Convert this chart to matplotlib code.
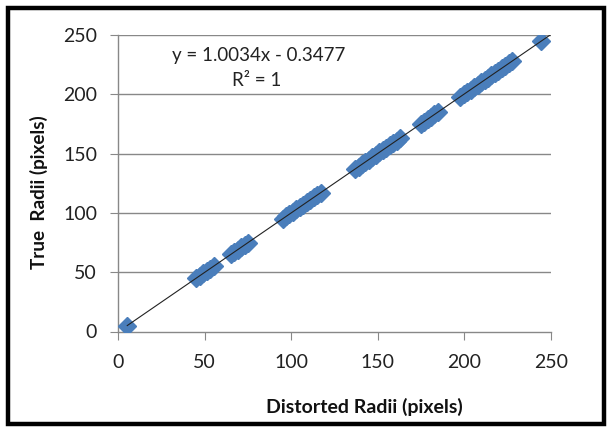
import numpy as np
import matplotlib
matplotlib.use('Agg')
import matplotlib.pyplot as plt
from matplotlib.patches import Rectangle

# distorted vs true radii (pixels)
true_radii = [5,
              45, 47, 49, 51, 53, 55,
              65, 67, 69, 71, 73, 75,
              95, 97, 99, 101, 103, 105, 107, 109, 111, 113, 115, 117,
              137, 139, 141, 143, 145, 147, 149, 151, 153, 155, 157, 159, 161, 163,
              175, 177, 179, 181, 183, 185,
              198, 200, 202, 204, 206, 208, 210, 212, 214, 216, 218, 220, 222, 224, 226, 228,
              245]
distorted_radii = [5.33,
                   45.19, 47.19, 49.18, 51.17, 53.16, 55.16,
                   65.13, 67.12, 69.11, 71.11, 73.10, 75.09,
                   95.03, 97.02, 99.01, 101.01, 103.00, 104.99, 106.98, 108.98, 110.97, 112.96, 114.95, 116.95,
                   136.88, 138.88, 140.87, 142.86, 144.85, 146.85, 148.84, 150.83, 152.82, 154.82, 156.81,
                   158.80, 160.80, 162.79,
                   174.75, 176.74, 178.74, 180.73, 182.72, 184.72,
                   197.68, 199.67, 201.66, 203.66, 205.65, 207.64, 209.63, 211.63, 213.62, 215.61, 217.61,
                   219.60, 221.59, 223.58, 225.58, 227.57,
                   244.51]
ticks = [0, 50, 100, 150, 200, 250]
eq_text = 'y = 1.0034x - 0.3477'
r2_text = 'R² = 1'

plt.rcParams['font.family'] = ['Lato', 'DejaVu Sans']

fig = plt.figure(figsize=(6.12, 4.29), dpi=100)
ax = fig.add_axes([118 / 612, 1 - 331.5 / 429, 433 / 612, 296.5 / 429])

grid_c = '#888888'
for v in ticks[1:]:
    ax.axhline(v, color=grid_c, lw=1.0, zorder=1)

ax.plot(distorted_radii, true_radii, 'D', color='#4a7ebb', ms=9, mec='#4a7ebb', zorder=3)

k, b = np.polyfit(distorted_radii, true_radii, 1)
xs = np.array([min(distorted_radii), 250])
ax.plot(xs, k * xs + b, color='#222222', lw=0.8, zorder=4)

ax.set_xlim(0, 250)
ax.set_ylim(0, 250)
ax.set_xticks(ticks)
ax.set_yticks(ticks)
for s in ['top', 'right']:
    ax.spines[s].set_visible(False)
for s in ['left', 'bottom']:
    ax.spines[s].set_color(grid_c)
    ax.spines[s].set_linewidth(1.0)
ax.tick_params(axis='x', direction='out', length=6, color=grid_c, pad=10, labelsize=14, labelcolor='#222222')
ax.tick_params(axis='y', direction='out', length=6, color=grid_c, pad=9, labelsize=14, labelcolor='#222222')

fig.text(259 / 612, 1 - 56 / 429, eq_text, ha='center', va='center', fontsize=13.5, color='#222222')
fig.text(257 / 612, 1 - 81 / 429, r2_text, ha='center', va='center', fontsize=13.5, color='#222222')

fig.text(364 / 612, 1 - 407 / 429, 'Distorted Radii (pixels)', ha='center', va='center',
         fontsize=14, fontweight='bold', color='#111111')
fig.text(39 / 612, 1 - 192 / 429, 'True  Radii (pixels)', ha='center', va='center', rotation=90,
         fontsize=13.6, fontweight='bold', color='#111111')

# black frame around the whole chart
fig.patches.append(Rectangle((8 / 612, 1 - 423.5 / 429), 596 / 612, 416 / 429,
                             transform=fig.transFigure, fill=False, ec='black', lw=3.2))

fig.savefig('out.png', dpi=100)
